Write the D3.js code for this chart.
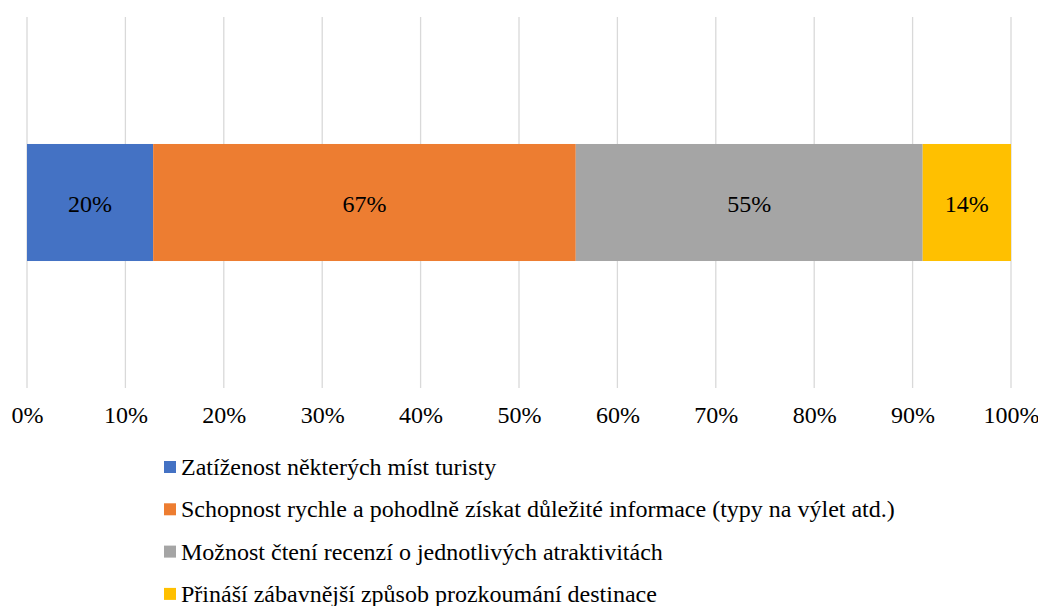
<!DOCTYPE html>
<html>
<head>
<meta charset="utf-8">
<script src="https://cdn.jsdelivr.net/npm/d3@7"></script>
<style>
  html, body { margin: 0; padding: 0; background: #fff; }
</style>
</head>
<body>
<svg id="chart" width="1038" height="606"></svg>
<script>
// Survey answers (share of respondents, %) shown as one 100% stacked bar
const categories = [
  "Zatíženost některých míst turisty",
  "Schopnost rychle a pohodlně získat důležité informace (typy na výlet atd.)",
  "Možnost čtení recenzí o jednotlivých atraktivitách",
  "Přináší zábavnější způsob prozkoumání destinace"
];
const values = [20, 67, 55, 14];
const colors = ["#4472C4", "#ED7D31", "#A5A5A5", "#FFC000"];
const tickValues = [0, 0.1, 0.2, 0.3, 0.4, 0.5, 0.6, 0.7, 0.8, 0.9, 1.0];

// Text is set at 18px and scaled up to an effective 24px so the serif face is kept
const FONT = "Liberation Serif";
const BASE = 18, SCALE = 24 / 18;

const svg = d3.select("#chart");
const left = 27, right = 1011, gridTop = 17, gridBottom = 388;

const x = d3.scaleLinear().domain([0, 1]).range([left, right]);
const y = d3.scaleBand().domain(["row"]).range([gridTop, gridBottom]).paddingInner(0).paddingOuter(1.085);

function styleText(sel) {
  return sel.style("font-family", FONT)
    .style("font-size", BASE + "px")
    .attr("fill", "#000");
}

// Vertical gridlines
svg.append("g").selectAll("line").data(tickValues).join("line")
  .attr("x1", d => x(d)).attr("x2", d => x(d))
  .attr("y1", gridTop).attr("y2", gridBottom)
  .attr("stroke", "#d9d9d9").attr("stroke-width", 1.3);

// Normalise to 100% and stack
const total = d3.sum(values);
let acc = 0;
const segs = values.map((v, i) => {
  const s = { v, i, x0: acc / total, x1: (acc + v) / total };
  acc += v;
  return s;
});

const bars = svg.append("g");
bars.selectAll("rect").data(segs).join("rect")
  .attr("x", d => x(d.x0))
  .attr("width", d => x(d.x1) - x(d.x0))
  .attr("y", y("row"))
  .attr("height", y.bandwidth())
  .attr("fill", d => colors[d.i]);

const barMid = y("row") + y.bandwidth() / 2;
bars.selectAll("g.lbl").data(segs).join("g").attr("class", "lbl")
  .attr("transform", d => `translate(${(x(d.x0) + x(d.x1)) / 2},${barMid + 9.5}) scale(${SCALE})`)
  .append("text")
  .attr("text-anchor", "middle")
  .call(styleText)
  .text(d => d.v + "%");

// Percentage axis labels
const axis = d3.axisBottom(x).tickValues(tickValues)
  .tickFormat(d3.format(".0%")).tickSize(0).tickPadding(0);
const ax = svg.append("g").attr("transform", "translate(0,423)").call(axis);
ax.select(".domain").remove();
ax.selectAll("text")
  .attr("y", 0).attr("dy", 0)
  .attr("transform", `scale(${SCALE})`)
  .call(styleText);

// Legend
const legend = svg.append("g");
const lg = legend.selectAll("g").data(categories).join("g")
  .attr("transform", (d, i) => `translate(164,${467 + i * 42.3})`);
lg.append("rect")
  .attr("x", 0).attr("y", -6).attr("width", 12).attr("height", 12)
  .attr("fill", (d, i) => colors[i]);
lg.append("g")
  .attr("transform", `translate(17,8) scale(${SCALE})`)
  .append("text")
  .call(styleText)
  .text(d => d);
</script>
</body>
</html>
